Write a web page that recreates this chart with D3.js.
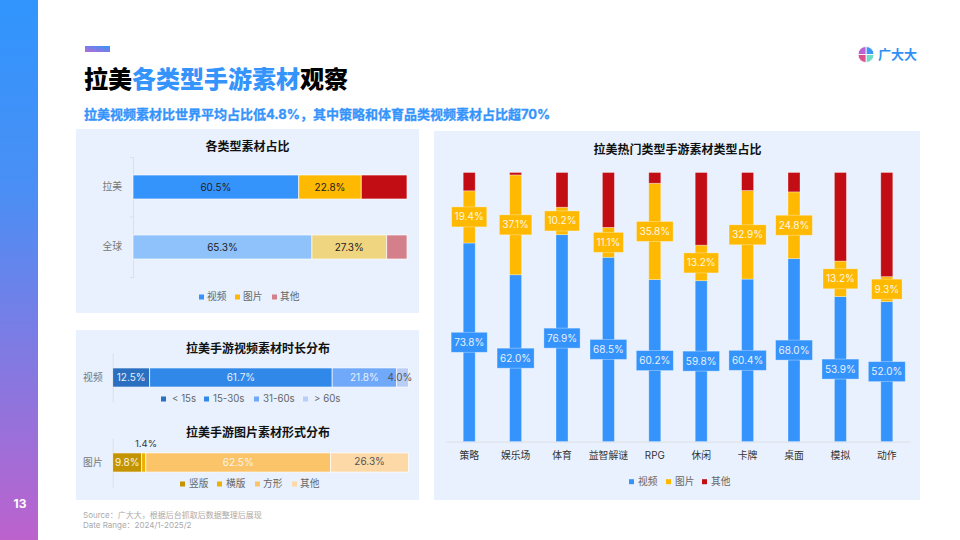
<!DOCTYPE html>
<html><head><meta charset="utf-8">
<script src="https://cdn.jsdelivr.net/npm/d3@7"></script>
<style>
html,body{margin:0;padding:0;background:#fff;width:960px;height:540px;overflow:hidden}
svg{display:block}
text{font-family:"Inter","Noto Sans CJK SC",sans-serif}
</style></head><body><svg id="c" width="960" height="540"></svg>
<script>
// ---------- data ----------
const typeRegions = ["拉美","全球"];
const typeSeries = ["视频","图片","其他"];
const typeLatam = [60.5,22.8,16.7];
const typeGlobal = [65.3,27.3,7.4];
const typeLabelsLatam = ["60.5%","22.8%",""];
const typeLabelsGlobal = ["65.3%","27.3%",""];

const durationSeries = ["< 15s","15-30s","31-60s","> 60s"];
const durationValues = [12.5,61.7,21.8,4.0];
const formatSeries = ["竖版","横版","方形","其他"];
const formatValues = [9.8,1.4,62.5,26.3];

const genres = ["策略","娱乐场","体育","益智解谜","RPG","休闲","卡牌","桌面","模拟","动作"];
const genreVideo = [73.8,62.0,76.9,68.5,60.2,59.8,60.4,68.0,53.9,52.0];
const genreImage = [19.4,37.1,10.2,11.1,35.8,13.2,32.9,24.8,13.2,9.3];
const genreOther = [6.8,0.9,12.9,20.4,4.0,27.0,6.7,7.2,32.9,38.7];

// ---------- helpers ----------
const svg = d3.select("#c");
const defs = svg.append("defs");
const g1 = defs.append("linearGradient").attr("id","side").attr("x1",0).attr("y1",0).attr("x2",0).attr("y2",1);
g1.append("stop").attr("offset","0%").attr("stop-color","#3095fd");
g1.append("stop").attr("offset","35%").attr("stop-color","#4a8ff5");
g1.append("stop").attr("offset","100%").attr("stop-color","#bd62cd");
const g2 = defs.append("linearGradient").attr("id","acc").attr("x1",0).attr("y1",1).attr("x2",1).attr("y2",0);
g2.append("stop").attr("offset","0%").attr("stop-color","#b86ad4");
g2.append("stop").attr("offset","100%").attr("stop-color","#3394fb");

function txt(x,y,s,o={}){
  return svg.append("text").attr("x",x).attr("y",y).attr("dy","0.35em").text(s)
    .attr("font-size",o.size||10).attr("fill",o.fill||"#333")
    .attr("font-weight",o.weight||400).attr("text-anchor",o.anchor||"start");
}
function legend(y,items){
  items.forEach(it=>{
    svg.append("rect").attr("x",it.sx).attr("y",y-2.5).attr("width",5).attr("height",5).attr("fill",it.color);
    txt(it.tx,y,it.label,{size:it.size||9.7,fill:"#666"});
  });
}
function cumulate(vals){let s=0;return vals.map(v=>{const r={x0:s,x1:s+v,v};s+=v;return r;});}

// ---------- page chrome ----------
svg.append("rect").attr("width",960).attr("height",540).attr("fill","#fff");
svg.append("rect").attr("width",38).attr("height",540).attr("fill","url(#side)");
txt(20,504,"13",{size:12,fill:"#fff",weight:700,anchor:"middle"});
svg.append("rect").attr("x",85).attr("y",46).attr("width",25).attr("height",6).attr("fill","url(#acc)");

const title = svg.append("text").attr("x",84).attr("y",80).attr("dy","0.35em").attr("font-size",24).attr("font-weight",900);
title.append("tspan").attr("fill","#000").text("拉美");
title.append("tspan").attr("fill","#3494fb").text("各类型手游素材");
title.append("tspan").attr("fill","#000").text("观察");
txt(84,114,"拉美视频素材比世界平均占比低4.8%，其中策略和体育品类视频素材占比超70%",{size:13,fill:"#3494fb",weight:700})
  .attr("stroke","#3494fb").attr("stroke-width",.3);

// logo
const logoC=[866,54.5], pie=d3.arc().innerRadius(0).outerRadius(8);
[["#3a97f7",0],["#6fdcc8",1],["#d9508f",2],["#bb62d0",3]].forEach(([c,i])=>{
  svg.append("path").attr("transform",`translate(${logoC})`).attr("fill",c).attr("stroke","#fff").attr("stroke-width",.8)
    .attr("d",pie({startAngle:i*Math.PI/2,endAngle:(i+1)*Math.PI/2}));
});
txt(878,54.5,"广大大",{size:13,fill:"#2f8ff5",weight:700});

// panels
[[76,129,343,184],[76,330,343,170],[434,131,486,369]].forEach(([x,y,w,h])=>{
  svg.append("rect").attr("x",x).attr("y",y).attr("width",w).attr("height",h).attr("fill","#e8f1fd");
});

txt(83,515,"Source：广大大，根据后台抓取后数据整理后展现",{size:8,fill:"#aaa"});
txt(83,525,"Date Range：2024/1-2025/2",{size:8,fill:"#aaa"});

function styleAxis(g,color,textColor,size){
  g.select(".domain").attr("stroke",color).attr("fill","none");
  g.selectAll(".tick line").attr("stroke",color);
  g.selectAll(".tick text").attr("fill",textColor).attr("font-size",size)
   .style("font-family",'"Inter","Noto Sans CJK SC",sans-serif');
}

// ---------- chart 1 ----------
txt(247.5,147,"各类型素材占比",{size:12,fill:"#111",weight:700,anchor:"middle"});
const x1 = d3.scaleLinear().domain([0,100]).range([133,407]);
const y1 = d3.scaleBand().domain(typeRegions).range([157,277]).paddingInner(.6).paddingOuter(.3);
const colorsLatam = ["#3593fc","#feb900","#c30d15"];
const colorsGlobal = ["#8fc1fb","#f0d580","#d4808a"];
const ax1 = svg.append("g").attr("transform","translate(133,0)").call(d3.axisLeft(y1).tickSizeInner(0).tickSizeOuter(3).tickPadding(11));
styleAxis(ax1,"#dcdfe6","#777",9.8);
svg.append("line").attr("x1",130).attr("x2",133).attr("y1",217).attr("y2",217).attr("stroke","#dcdfe6");
[[typeRegions[0],typeLatam,colorsLatam,typeLabelsLatam],[typeRegions[1],typeGlobal,colorsGlobal,typeLabelsGlobal]].forEach(([r,vals,cols,labs])=>{
  cumulate(vals).forEach((d,i)=>{
    svg.append("rect").attr("x",x1(d.x0)).attr("y",y1(r)).attr("width",x1(d.x1)-x1(d.x0)).attr("height",y1.bandwidth())
      .attr("fill",cols[i]).attr("stroke","#fff").attr("stroke-opacity",.8).attr("stroke-width",.8);
    if(labs[i]) txt((x1(d.x0)+x1(d.x1))/2,y1(r)+y1.bandwidth()/2,labs[i],{size:10,fill:"#222",anchor:"middle"});
  });
});
legend(297,[
 {sx:199,tx:207,label:typeSeries[0],color:colorsLatam[0]},
 {sx:235,tx:243,label:typeSeries[1],color:colorsLatam[1]},
 {sx:272,tx:280,label:typeSeries[2],color:colorsGlobal[2]}]);

// ---------- charts 2 & 3 ----------
const x2 = d3.scaleLinear().domain([0,100]).range([112.7,408.5]);
function hbar(cat,top,bottom,vals,cols){
  const y = d3.scaleBand().domain([cat]).range([top,bottom]).paddingInner(0).paddingOuter(.78);
  const ax = svg.append("g").attr("transform","translate(112.7,0)").call(d3.axisLeft(y).tickSize(0).tickPadding(10));
  styleAxis(ax,"#dcdfe6","#777",9.8);
  cumulate(vals).forEach((d,i)=>{
    svg.append("rect").attr("x",x2(d.x0)).attr("y",y(cat)).attr("width",x2(d.x1)-x2(d.x0)).attr("height",y.bandwidth())
      .attr("fill",cols[i]).attr("stroke","#fff").attr("stroke-opacity",.85).attr("stroke-width",.8);
  });
  return {y,stack:cumulate(vals)};
}
txt(258,348.5,"拉美手游视频素材时长分布",{size:12,fill:"#111",weight:700,anchor:"middle"});
const durCols=["#2a6fc0","#3088e8","#70a8fa","#b8cdf8"];
const dur=hbar("视频",353,402,durationValues,durCols);
const durY=dur.y("视频")+dur.y.bandwidth()/2;
dur.stack.forEach((d,i)=>{
  const cx=i===3?400:(x2(d.x0)+x2(d.x1))/2;
  txt(cx,durY,d.v.toFixed(1)+"%",{size:10,fill:i===3?"#555":"#e8f1fd",anchor:"middle"});
});
legend(399,[
 {sx:161,tx:172,label:durationSeries[0],color:durCols[0]},
 {sx:204,tx:213,label:durationSeries[1],color:durCols[1]},
 {sx:254,tx:263,label:durationSeries[2],color:durCols[2]},
 {sx:303,tx:314,label:durationSeries[3],color:durCols[3]}]);

txt(258,433,"拉美手游图片素材形式分布",{size:12,fill:"#111",weight:700,anchor:"middle"});
const fmtCols=["#c49300","#f0b000","#fcc468","#fdd9a8"];
const fmt=hbar("图片",438,487,formatValues,fmtCols);
const fmtY=fmt.y("图片")+fmt.y.bandwidth()/2;
fmt.stack.forEach((d,i)=>{
  const cx=(x2(d.x0)+x2(d.x1))/2;
  if(i===1) txt(146,444,d.v.toFixed(1)+"%",{size:9.5,fill:"#333",anchor:"middle"});
  else txt(cx,i===3?fmtY-1.5:fmtY,d.v.toFixed(1)+"%",{size:10,fill:i===3?"#555":"#f8f4e8",anchor:"middle"});
});
legend(484,[
 {sx:180,tx:189,label:formatSeries[0],color:fmtCols[0]},
 {sx:217,tx:226,label:formatSeries[1],color:fmtCols[1]},
 {sx:255,tx:263,label:formatSeries[2],color:fmtCols[2]},
 {sx:292,tx:300,label:formatSeries[3],color:fmtCols[3]}]);

// ---------- chart 4 ----------
txt(677.5,150,"拉美热门类型手游素材类型占比",{size:12,fill:"#111",weight:700,anchor:"middle"});
const x4 = d3.scaleBand().domain(genres).range([446,910]);
const y4 = d3.scaleLinear().domain([0,100]).range([441.6,172.5]);
const genreCols=["#3593fc","#feb900","#c30d15"];
const barW=12;
const ax4 = svg.append("g").attr("transform","translate(0,441.6)").call(d3.axisBottom(x4).tickSize(0).tickPadding(10));
styleAxis(ax4,"#dcdfe6","#333",9.8);
genres.forEach((g,k)=>{
  const stack=cumulate([genreVideo[k],genreImage[k],genreOther[k]]);
  const cx=x4(g)+x4.bandwidth()/2;
  stack.forEach((d,i)=>{
    svg.append("rect").attr("x",cx-barW/2).attr("y",y4(d.x1)).attr("width",barW).attr("height",y4(d.x0)-y4(d.x1))
      .attr("fill",genreCols[i]).attr("stroke","#fff").attr("stroke-opacity",.4).attr("stroke-width",.8);
  });
  stack.slice(0,2).forEach((d,i)=>{
    const cy=(y4(d.x0)+y4(d.x1))/2;
    const s=d.v.toFixed(1)+"%";
    const t=txt(cx,cy,s,{size:10,fill:i?"#fff8e6":"#e8f1fd",anchor:"middle"});
    const w=t.node().getComputedTextLength()+6;
    svg.insert("rect",()=>t.node()).attr("x",cx-w/2).attr("y",cy-10).attr("width",w).attr("height",20)
      .attr("fill",genreCols[i]).attr("stroke","#fff").attr("stroke-opacity",.4).attr("stroke-width",.8);
  });
});
legend(481.7,[
 {sx:629,tx:638,label:typeSeries[0],color:genreCols[0]},
 {sx:666,tx:675,label:typeSeries[1],color:genreCols[1]},
 {sx:702,tx:711,label:typeSeries[2],color:genreCols[2]}]);
</script></body></html>
